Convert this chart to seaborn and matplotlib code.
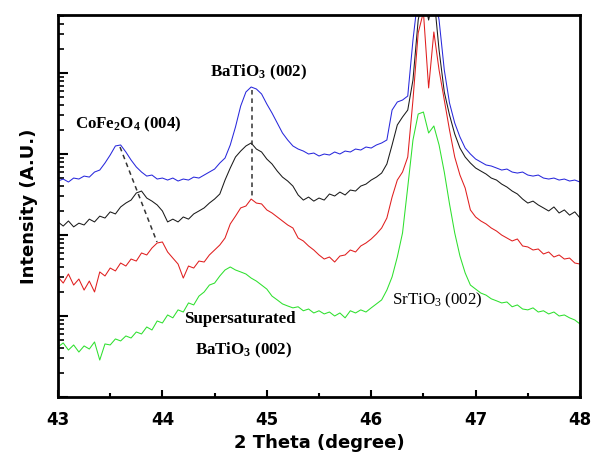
import matplotlib
matplotlib.use("Agg")
import matplotlib.pyplot as plt
import numpy as np
import pandas as pd
import seaborn as sns
from matplotlib.ticker import LogLocator, NullFormatter, MultipleLocator

# 2-theta grid, 0.05 deg step, 43..48
two_theta = np.round(np.linspace(43.0, 48.0, 101), 2)

# intensities (a.u.), log axis
blue = [
    464, 491, 451, 505, 491, 534, 519, 599, 634, 774,
    972, 1257, 1293, 1059, 843, 692, 599, 534, 550, 491,
    505, 477, 505, 464, 491, 477, 519, 505, 550, 599,
    652, 774, 892, 1293, 2156, 3916, 5830, 6719, 6349, 5509,
    4143, 3205, 2415, 1818, 1490, 1257, 1152, 1088, 1000, 1028,
    945, 1000, 972, 1059, 1000, 1088, 1059, 1152, 1120, 1220,
    1185, 1293, 1368, 1490, 3490, 4386, 4640, 5197, 25500, 91800,
    105900, 91800, 105900, 45100, 10900, 4261, 2415, 1623, 1185, 1000,
    867, 797, 732, 711, 672, 634, 652, 599, 582, 599,
    550, 534, 550, 505, 491, 505, 477, 491, 464, 477,
    451,
]
black = [
    145, 129, 149, 126, 140, 133, 157, 145, 171, 162,
    193, 182, 222, 248, 270, 330, 349, 286, 262, 235,
    198, 145, 157, 145, 167, 157, 182, 198, 216, 248,
    278, 321, 477, 672, 918, 1088, 1257, 1368, 1152, 1059,
    867, 753, 616, 519, 464, 402, 312, 270, 294, 262,
    286, 270, 321, 303, 339, 312, 359, 349, 402, 425,
    477, 519, 582, 753, 1293, 2283, 2864, 3490, 8200, 45100,
    91800, 45100, 91800, 19200, 5830, 3030, 1768, 1185, 918, 774,
    672, 616, 566, 505, 477, 425, 391, 349, 321, 278,
    248, 262, 235, 216, 198, 222, 187, 204, 176, 193,
    162,
]
red = [
    30.4, 25.5, 33.0, 24.1, 28.6, 20.9, 27.0, 19.8, 35.0, 31.2,
    39.1, 36.0, 45.1, 41.4, 50.5, 47.7, 60.0, 56.7, 69.1, 79.7,
    82.0, 61.7, 51.9, 43.8, 29.4, 41.4, 39.1, 47.7, 46.4, 56.7,
    65.3, 75.3, 91.8, 137, 171, 216, 228, 278, 248, 242,
    204, 187, 167, 149, 133, 122, 91.8, 84.4, 73.2, 65.3,
    56.7, 50.5, 53.5, 46.4, 55.0, 56.7, 65.3, 61.7, 73.2, 79.7,
    89.3, 103, 122, 162, 294, 477, 599, 918, 4640, 31200,
    56600, 6540, 32100, 10900, 4640, 1980, 918, 550, 380, 204,
    167, 149, 137, 122, 112, 99.8, 91.8, 84.4, 89.3, 73.2,
    71.2, 65.3, 67.2, 58.3, 61.7, 53.5, 56.7, 50.5, 51.9, 45.1,
    43.8,
]
green = [
    4.15, 4.65, 3.80, 4.39, 3.59, 4.27, 3.91, 4.78, 2.86, 4.52,
    4.39, 5.21, 4.92, 5.67, 5.35, 6.35, 6.00, 7.32, 6.72, 8.68,
    8.20, 10.3, 9.49, 11.9, 11.2, 14.5, 13.7, 17.6, 19.8, 24.1,
    25.5, 31.2, 37.0, 40.3, 37.0, 35.0, 33.0, 29.4, 27.0, 24.1,
    21.5, 17.6, 15.8, 14.1, 13.3, 12.6, 13.0, 11.6, 12.2, 10.9,
    11.6, 10.6, 11.2, 10.0, 10.9, 9.49, 11.6, 10.9, 11.9, 11.2,
    12.6, 14.1, 15.8, 20.9, 30.4, 53.5, 106, 391, 1490, 3116,
    3299, 1818, 2219, 1293, 599, 242, 106, 55.0, 34.0, 24.1,
    21.5, 19.2, 18.1, 16.3, 15.4, 14.5, 14.9, 13.0, 13.7, 12.2,
    11.9, 12.6, 11.2, 11.6, 10.6, 11.2, 10.0, 10.3, 9.49, 8.93,
    7.97,
]

# guide lines following the peak shift
cofe_guide_x = [43.594, 43.948]
cofe_guide_y = [1220, 82]
bto_guide_x = [44.86, 44.86]
bto_guide_y = [6170, 295]

colors = {"blue": "#2828dc", "black": "#1a1a1a", "red": "#e01e1e", "green": "#2ee02e"}

sns.set_style("ticks")
plt.rcParams.update({
    "mathtext.default": "regular",
    "text.color": "black",
    "axes.labelcolor": "black",
    "xtick.color": "black",
    "ytick.color": "black",
})

frames = []
for name, vals in [("blue", blue), ("black", black), ("red", red), ("green", green)]:
    frames.append(pd.DataFrame({"two_theta": two_theta, "intensity": vals, "sample": name}))
df = pd.concat(frames, ignore_index=True)

fig = plt.figure(figsize=(5.93, 4.58), dpi=100)
ax = fig.add_axes([0.0978, 0.1332, 0.8803, 0.834])
sns.lineplot(data=df, x="two_theta", y="intensity", hue="sample", palette=colors,
             estimator=None, sort=False, linewidth=0.75, legend=False, ax=ax)

ax.plot(cofe_guide_x, cofe_guide_y, ls=(0, (3, 2.5)), color="#333333", lw=1.1)
ax.plot(bto_guide_x, bto_guide_y, ls=(0, (3, 2.5)), color="#333333", lw=1.1)

ax.set_yscale("log")
ax.set_xlim(43, 48)
ax.set_ylim(1.0, 52000)
ax.xaxis.set_major_locator(MultipleLocator(1))
ax.xaxis.set_minor_locator(MultipleLocator(0.5))
ax.yaxis.set_major_locator(LogLocator(base=10))
ax.yaxis.set_minor_locator(LogLocator(base=10, subs=np.arange(2, 10)))
ax.yaxis.set_major_formatter(NullFormatter())
ax.yaxis.set_minor_formatter(NullFormatter())

ax.tick_params(which="both", direction="in", top=False, right=False, color="black")
ax.tick_params(axis="y", which="major", length=7, width=1.5)
ax.tick_params(axis="y", which="minor", length=4, width=1.2)
ax.tick_params(axis="x", which="major", length=5, width=1.5, pad=10, labelcolor="black")
ax.tick_params(axis="x", which="minor", length=3, width=1.5)
for lab in ax.get_xticklabels():
    lab.set_fontfamily("DejaVu Sans")
    lab.set_fontweight("bold")
    lab.set_fontsize(12)
for sp in ax.spines.values():
    sp.set_visible(True)
    sp.set_linewidth(2.0)
    sp.set_color("black")

ax.set_xlabel("2 Theta (degree)", family="DejaVu Sans", weight="bold", fontsize=13, labelpad=4)
ax.set_ylabel("Intensity (A.U.)", family="DejaVu Sans", weight="bold", fontsize=13, labelpad=11)

serif = dict(family="Liberation Serif", fontsize=12.2, va="center", ha="left")
ax.text(43.163, 2345, r"CoFe$_2$O$_4$ (004)", weight="bold", **serif)
ax.text(44.456, 10280, r"BaTiO$_3$ (002)", weight="bold", **serif)
ax.text(44.207, 9.18, "Supersaturated", weight="bold", **serif)
ax.text(44.312, 3.80, r"BaTiO$_3$ (002)", weight="bold", **serif)
ax.text(46.199, 15.8, r"SrTiO$_3$ (002)", weight="normal", **serif)

fig.savefig("out.png", dpi=100)
